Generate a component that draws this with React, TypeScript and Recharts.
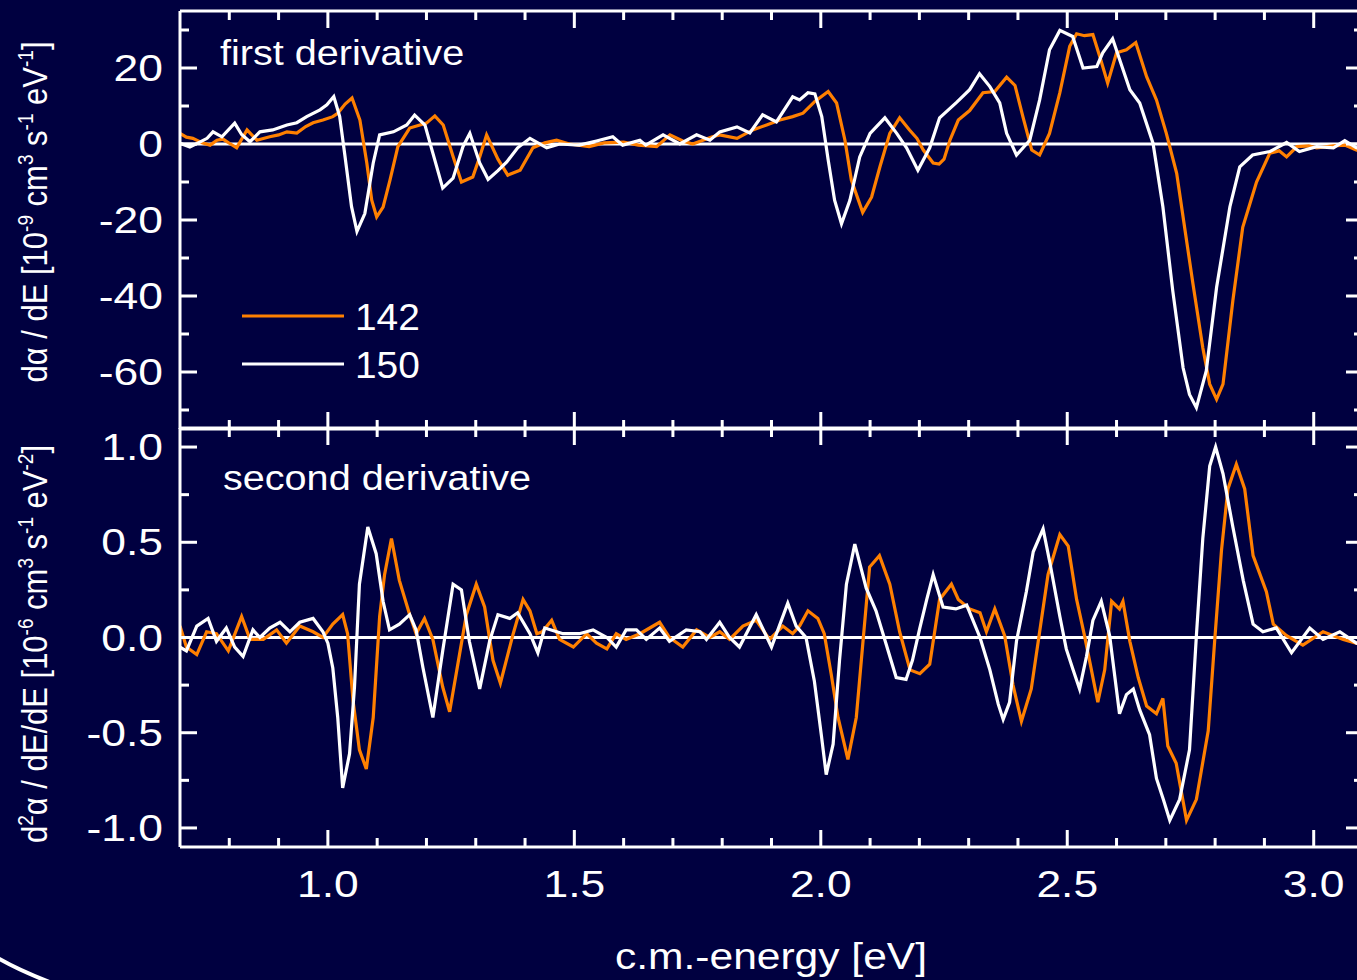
import React from "react";
import { LineChart, Line, XAxis, YAxis, ReferenceLine } from "recharts";

const BG = "#000040";
const ORANGE = "#ff8000";
const WHITE = "#ffffff";
const FONT = '"Liberation Sans", Arial, sans-serif';

// [energy eV, value]
const first142: [number, number][] = [
  [0.7, 2.8], [0.713, 1.8], [0.726, 1.5], [0.745, 0.3], [0.761, -0.3], [0.775, 1.0], [0.787, 1.3], [0.8, 0.2],
  [0.815, -1.0], [0.836, 3.7], [0.856, 1.0], [0.882, 1.9], [0.9, 2.4], [0.917, 3.2], [0.937, 2.9], [0.955, 4.6],
  [0.97, 5.6], [0.99, 6.3], [1.01, 7.2], [1.02, 8.1], [1.035, 10.5], [1.049, 12.1], [1.065, 6.3], [1.079, -5.0],
  [1.089, -14.8], [1.099, -19.2], [1.112, -16.6], [1.126, -9.5], [1.142, -0.7], [1.166, 4.2], [1.2, 5.5],
  [1.217, 7.4], [1.234, 5.0], [1.254, -3.3], [1.271, -10.0], [1.294, -8.7], [1.308, -3.4], [1.322, 2.4],
  [1.345, -4.0], [1.365, -8.2], [1.39, -6.9], [1.416, -1.0], [1.44, 0.3], [1.464, 1.0], [1.49, 0.0], [1.53, -0.7],
  [1.56, 0.3], [1.6, 0.5], [1.63, -0.3], [1.667, -0.7], [1.694, 2.4], [1.72, 0.8], [1.74, 0.0], [1.78, 1.9],
  [1.795, 2.4], [1.83, 1.5], [1.862, 3.7], [1.89, 5.0], [1.917, 6.3], [1.943, 7.2], [1.964, 8.1], [1.988, 11.2],
  [2.015, 13.8], [2.032, 10.8], [2.049, 1.0], [2.062, -9.5], [2.085, -18.0], [2.103, -14.0], [2.12, -6.0],
  [2.14, 2.8], [2.16, 6.9], [2.18, 3.7], [2.195, 1.5], [2.208, -1.6], [2.228, -5.0], [2.24, -5.3], [2.25, -4.0],
  [2.262, 1.0], [2.279, 6.3], [2.302, 8.8], [2.329, 13.5], [2.353, 13.8], [2.377, 17.6], [2.394, 15.4],
  [2.41, 7.2], [2.428, -1.6], [2.444, -2.9], [2.464, 2.8], [2.485, 13.5], [2.505, 25.7], [2.519, 29.0],
  [2.535, 28.5], [2.552, 28.8], [2.566, 23.0], [2.582, 16.0], [2.6, 24.0], [2.62, 24.8], [2.639, 26.7],
  [2.661, 17.7], [2.681, 11.6], [2.701, 2.8], [2.722, -7.7], [2.735, -19.2], [2.755, -36.8], [2.775, -53.6],
  [2.789, -63.2], [2.803, -67.2], [2.816, -63.2], [2.836, -41.2], [2.856, -21.9], [2.884, -10.0], [2.911, -2.4],
  [2.93, -1.8], [2.945, -3.4], [2.966, -0.7], [2.99, -0.5], [3.006, -1.0], [3.04, -0.5], [3.063, -0.3],
  [3.087, -1.6], [3.1, -1.5],
];

const first150: [number, number][] = [
  [0.7, 0.2], [0.72, -0.8], [0.74, 0.5], [0.755, 1.5], [0.767, 3.2], [0.785, 1.9], [0.811, 5.5], [0.825, 2.5],
  [0.842, 0.6], [0.862, 3.2], [0.888, 3.7], [0.917, 5.0], [0.937, 5.6], [0.957, 7.2], [0.984, 9.0], [0.998, 10.3],
  [1.012, 12.5], [1.024, 7.2], [1.034, -2.5], [1.048, -16.5], [1.059, -23.0], [1.075, -18.3], [1.092, -5.0],
  [1.105, 2.4], [1.133, 3.2], [1.16, 5.0], [1.176, 7.6], [1.197, 5.0], [1.213, -2.4], [1.233, -11.6],
  [1.254, -9.0], [1.274, -0.7], [1.288, 2.8], [1.308, -5.0], [1.325, -9.3], [1.345, -7.0], [1.363, -4.7],
  [1.385, -1.0], [1.41, 1.5], [1.444, -1.0], [1.47, 0.0], [1.51, -0.3], [1.545, 0.8], [1.578, 1.9], [1.598, -0.3],
  [1.633, 1.0], [1.645, -0.3], [1.68, 2.4], [1.714, 0.0], [1.748, 2.4], [1.775, 1.0], [1.795, 3.2], [1.83, 4.5],
  [1.856, 2.9], [1.882, 7.7], [1.91, 5.8], [1.943, 12.4], [1.957, 11.6], [1.974, 13.5], [1.988, 13.2],
  [2.002, 7.2], [2.015, -4.2], [2.028, -14.8], [2.042, -21.0], [2.059, -14.8], [2.079, -3.4], [2.1, 2.8],
  [2.13, 6.9], [2.154, 2.8], [2.174, -1.0], [2.197, -6.9], [2.221, -1.0], [2.241, 6.9], [2.276, 11.0],
  [2.302, 14.3], [2.322, 18.5], [2.343, 15.1], [2.363, 10.8], [2.377, 2.8], [2.397, -2.9], [2.424, 1.0],
  [2.444, 11.6], [2.464, 24.8], [2.485, 29.9], [2.511, 28.3], [2.532, 20.0], [2.56, 20.4], [2.572, 24.0],
  [2.592, 27.7], [2.627, 14.3], [2.647, 10.8], [2.674, 0.2], [2.694, -16.5], [2.714, -38.6], [2.735, -58.9],
  [2.748, -65.9], [2.762, -69.4], [2.782, -59.7], [2.803, -37.7], [2.83, -16.5], [2.85, -6.0], [2.876, -2.9],
  [2.911, -2.0], [2.945, 0.4], [2.971, -2.0], [3.006, -0.7], [3.04, -1.0], [3.063, 0.9], [3.087, -1.0], [3.1, -0.8],
];

const second142: [number, number][] = [
  [0.7, 0.06], [0.713, -0.05], [0.734, -0.09], [0.754, 0.03], [0.774, 0.02], [0.798, -0.07], [0.825, 0.11],
  [0.842, -0.01], [0.869, -0.01], [0.896, 0.04], [0.916, -0.03], [0.943, 0.06], [0.97, 0.03], [0.99, 0.0],
  [1.01, 0.07], [1.03, 0.12], [1.04, 0.02], [1.051, -0.33], [1.064, -0.59], [1.078, -0.69], [1.092, -0.42],
  [1.105, 0.11], [1.115, 0.33], [1.129, 0.52], [1.145, 0.3], [1.166, 0.12], [1.179, 0.02], [1.196, 0.1],
  [1.213, -0.01], [1.233, -0.26], [1.247, -0.39], [1.267, -0.09], [1.281, 0.12], [1.301, 0.28], [1.318, 0.16],
  [1.335, -0.12], [1.35, -0.24], [1.376, 0.02], [1.396, 0.2], [1.41, 0.14], [1.424, 0.02], [1.435, 0.03],
  [1.454, 0.09], [1.47, -0.01], [1.498, -0.05], [1.525, 0.02], [1.545, -0.03], [1.566, -0.06], [1.585, 0.02],
  [1.605, -0.01], [1.633, 0.02], [1.673, 0.08], [1.693, 0.0], [1.72, -0.05], [1.748, 0.04], [1.775, 0.0],
  [1.795, 0.03], [1.815, -0.01], [1.842, 0.06], [1.869, 0.09], [1.896, -0.01], [1.923, 0.06], [1.943, 0.02],
  [1.957, 0.06], [1.974, 0.14], [1.994, 0.1], [2.007, 0.02], [2.021, -0.19], [2.035, -0.42], [2.055, -0.64],
  [2.072, -0.42], [2.086, -0.01], [2.099, 0.37], [2.119, 0.43], [2.14, 0.28], [2.16, 0.03], [2.181, -0.17],
  [2.201, -0.19], [2.221, -0.14], [2.241, 0.2], [2.265, 0.28], [2.279, 0.2], [2.302, 0.15], [2.323, 0.13],
  [2.336, 0.03], [2.353, 0.15], [2.373, 0.01], [2.39, -0.25], [2.407, -0.44], [2.427, -0.27], [2.444, 0.03],
  [2.461, 0.33], [2.485, 0.54], [2.502, 0.48], [2.519, 0.2], [2.535, 0.01], [2.549, -0.17], [2.562, -0.34],
  [2.576, -0.17], [2.59, 0.19], [2.606, 0.15], [2.613, 0.19], [2.627, -0.02], [2.644, -0.21], [2.661, -0.36],
  [2.681, -0.4], [2.694, -0.32], [2.704, -0.57], [2.721, -0.66], [2.742, -0.96], [2.762, -0.85], [2.772, -0.7],
  [2.786, -0.49], [2.799, -0.02], [2.813, 0.46], [2.826, 0.78], [2.843, 0.91], [2.86, 0.78], [2.877, 0.43],
  [2.904, 0.24], [2.918, 0.07], [2.945, 0.01], [2.978, -0.04], [3.019, 0.03], [3.06, -0.01], [3.087, -0.03],
  [3.1, -0.02],
];

const second150: [number, number][] = [
  [0.7, -0.05], [0.713, -0.07], [0.734, 0.06], [0.757, 0.1], [0.774, -0.02], [0.794, 0.05], [0.811, -0.05],
  [0.828, -0.1], [0.848, 0.04], [0.862, 0.0], [0.882, 0.05], [0.903, 0.08], [0.923, 0.03], [0.943, 0.08],
  [0.97, 0.1], [0.99, 0.03], [1.0, -0.03], [1.01, -0.16], [1.02, -0.42], [1.03, -0.79], [1.044, -0.61],
  [1.054, -0.26], [1.064, 0.28], [1.081, 0.58], [1.098, 0.44], [1.112, 0.19], [1.125, 0.04], [1.145, 0.07],
  [1.166, 0.12], [1.179, 0.04], [1.193, -0.16], [1.213, -0.42], [1.233, -0.07], [1.254, 0.28], [1.271, 0.25],
  [1.287, -0.02], [1.308, -0.27], [1.328, -0.02], [1.345, 0.12], [1.369, 0.1], [1.385, 0.13], [1.41, 0.02],
  [1.426, -0.08], [1.44, 0.05], [1.477, 0.02], [1.51, 0.02], [1.538, 0.04], [1.566, 0.0], [1.585, -0.05],
  [1.605, 0.04], [1.626, 0.04], [1.646, -0.01], [1.673, 0.05], [1.693, -0.02], [1.727, 0.04], [1.755, 0.03],
  [1.768, -0.01], [1.795, 0.08], [1.815, 0.0], [1.835, -0.05], [1.869, 0.12], [1.9, -0.05], [1.933, 0.18],
  [1.95, 0.06], [1.97, 0.0], [1.987, -0.23], [2.001, -0.51], [2.011, -0.72], [2.025, -0.56], [2.038, -0.12],
  [2.052, 0.28], [2.069, 0.49], [2.092, 0.26], [2.112, 0.14], [2.132, -0.03], [2.153, -0.21], [2.173, -0.22],
  [2.186, -0.12], [2.201, 0.05], [2.215, 0.2], [2.228, 0.33], [2.248, 0.16], [2.274, 0.15], [2.296, 0.17],
  [2.323, 0.0], [2.343, -0.17], [2.36, -0.35], [2.37, -0.43], [2.383, -0.34], [2.397, -0.02], [2.417, 0.24],
  [2.431, 0.45], [2.451, 0.57], [2.465, 0.39], [2.485, 0.11], [2.498, -0.06], [2.512, -0.17], [2.525, -0.27],
  [2.539, -0.1], [2.552, 0.09], [2.569, 0.19], [2.586, 0.01], [2.606, -0.4], [2.62, -0.3], [2.634, -0.27],
  [2.647, -0.38], [2.667, -0.51], [2.681, -0.74], [2.695, -0.85], [2.708, -0.96], [2.728, -0.85], [2.748, -0.59],
  [2.762, 0.01], [2.775, 0.52], [2.789, 0.9], [2.801, 1.0], [2.816, 0.86], [2.836, 0.58], [2.857, 0.3],
  [2.877, 0.07], [2.897, 0.03], [2.924, 0.05], [2.955, -0.08], [2.992, 0.05], [3.019, -0.01], [3.053, 0.03],
  [3.087, -0.03], [3.1, -0.02],
];

const xTicks = [0.8, 0.9, 1.0, 1.1, 1.2, 1.3, 1.4, 1.5, 1.6, 1.7, 1.8, 1.9, 2.0, 2.1, 2.2, 2.3, 2.4, 2.5, 2.6, 2.7, 2.8, 2.9, 3.0];
const xMajor = [1.0, 1.5, 2.0, 2.5, 3.0];
const firstTicks = [-70, -60, -50, -40, -30, -20, -10, 0, 10, 20, 30];
const firstMajor = [-60, -40, -20, 0, 20];
const secondTicks = [-1.0, -0.75, -0.5, -0.25, 0, 0.25, 0.5, 0.75, 1.0];
const secondMajor = [-1.0, -0.5, 0, 0.5, 1.0];

const toRows = (pts: [number, number][]) => pts.map(([e, v]) => ({ e, v }));

type Side = "left" | "right" | "top" | "bottom";

function makeTick(side: Side, majors: number[], fmt?: (v: number) => string) {
  return (props: any) => {
    const { x, y, payload } = props;
    const v = payload.value as number;
    const major = majors.some((m) => Math.abs(m - v) < 1e-6);
    const len = major ? 17 : 9;
    let x2 = x;
    let y2 = y;
    if (side === "left") x2 = x + len;
    if (side === "right") x2 = x - len;
    if (side === "top") y2 = y + len;
    if (side === "bottom") y2 = y - len;
    let label = null;
    if (fmt && major && side === "left") {
      label = (
        <text transform={`translate(${x - 17},${y + 13}) scale(1.2,1)`} textAnchor="end" fill={WHITE} fontSize={37} fontFamily={FONT}>
          {fmt(v)}
        </text>
      );
    }
    if (fmt && major && side === "bottom") {
      label = (
        <text transform={`translate(${x},${y + 50}) scale(1.2,1)`} textAnchor="middle" fill={WHITE} fontSize={37} fontFamily={FONT}>
          {fmt(v)}
        </text>
      );
    }
    return (
      <g>
        <line x1={x} y1={y} x2={x2} y2={y2} stroke={WHITE} strokeWidth={3} />
        {label}
      </g>
    );
  };
}

const axisLine = { stroke: WHITE, strokeWidth: 3 };

function Panel(props: {
  top: number;
  height: number;
  topAxisH: number;
  bottomAxisH: number;
  domain: [number, number];
  yTicks: number[];
  yMajor: number[];
  yFmt: (v: number) => string;
  xLabels: boolean;
  a: [number, number][];
  b: [number, number][];
}) {
  const { top, height, topAxisH, bottomAxisH, domain, yTicks, yMajor, yFmt, xLabels, a, b } = props;
  const common = { tickSize: 0, tickMargin: 0, interval: 0 as const, allowDataOverflow: true };
  return (
    <div style={{ position: "absolute", left: 0, top, width: 1400, height }}>
      <LineChart width={1400} height={height} margin={{ top: 0, right: 27, left: 10, bottom: 0 }}>
        <XAxis xAxisId="t" orientation="top" type="number" dataKey="e" domain={[0.7, 3.1]} ticks={xTicks}
          height={topAxisH} axisLine={axisLine} tickLine={false} tick={makeTick("top", xMajor)} {...common} />
        <XAxis xAxisId="b" orientation="bottom" type="number" dataKey="e" domain={[0.7, 3.1]} ticks={xTicks}
          height={bottomAxisH} axisLine={axisLine} tickLine={false}
          tick={makeTick("bottom", xMajor, xLabels ? (v) => v.toFixed(1) : undefined)} {...common} />
        <YAxis yAxisId="l" orientation="left" type="number" domain={domain} ticks={yTicks} width={170}
          axisLine={axisLine} tickLine={false} tick={makeTick("left", yMajor, yFmt)} {...common} />
        <YAxis yAxisId="r" orientation="right" type="number" domain={domain} ticks={yTicks} width={10}
          axisLine={axisLine} tickLine={false} tick={makeTick("right", yMajor)} {...common} />
        <ReferenceLine xAxisId="b" yAxisId="l" y={0} stroke={WHITE} strokeWidth={3.2} />
        <Line xAxisId="b" yAxisId="l" data={toRows(a)} dataKey="v" type="linear" stroke={ORANGE}
          strokeWidth={3.2} dot={false} isAnimationActive={false} />
        <Line xAxisId="b" yAxisId="l" data={toRows(b)} dataKey="v" type="linear" stroke={WHITE}
          strokeWidth={3.2} dot={false} isAnimationActive={false} />
      </LineChart>
    </div>
  );
}

const sup = (s: string) => (
  <tspan dy={-12} fontSize={19}>{s}</tspan>
);
const base = (s: string) => <tspan dy={12}>{s}</tspan>;

export default function App() {
  return (
    <div style={{ position: "fixed", left: 0, top: 0, width: 1357, height: 980, overflow: "hidden", background: BG }}>
      <Panel top={1} height={439} topAxisH={10} bottomAxisH={11} domain={[-75, 35]} yTicks={firstTicks}
        yMajor={firstMajor} yFmt={(v) => String(v)} xLabels={false} a={first142} b={first150} />
      <Panel top={420} height={560} topAxisH={8} bottomAxisH={133} domain={[-1.1, 1.1]} yTicks={secondTicks}
        yMajor={secondMajor} yFmt={(v) => v.toFixed(1)} xLabels={true} a={second142} b={second150} />
      <svg width={1357} height={980} style={{ position: "absolute", left: 0, top: 0, pointerEvents: "none" }}
        fontFamily={FONT} fill={WHITE}>
        <text transform="translate(220,65) scale(1.1,1)" fontSize={36}>first derivative</text>
        <text transform="translate(223,490) scale(1.1,1)" fontSize={36}>second derivative</text>
        <line x1={242} y1={316} x2={344} y2={316} stroke={ORANGE} strokeWidth={3.2} />
        <line x1={242} y1={364} x2={344} y2={364} stroke={WHITE} strokeWidth={3.2} />
        <text transform="translate(355,330) scale(1.05,1)" fontSize={37}>142</text>
        <text transform="translate(355,378) scale(1.05,1)" fontSize={37}>150</text>
        <text transform="translate(771,969) scale(1.15,1)" fontSize={37} textAnchor="middle">c.m.-energy [eV]</text>
        <text transform="translate(47,212) scale(1.13,1) rotate(-90)" fontSize={31} textAnchor="middle">
          {"d\u03b1 / dE [10"}{sup("-9")}{base(" cm")}{sup("3")}{base(" s")}{sup("-1")}{base(" eV")}{sup("-1")}{base("]")}
        </text>
        <text transform="translate(47,644) scale(1.13,1) rotate(-90)" fontSize={31} textAnchor="middle">
          {"d"}{sup("2")}{base("\u03b1 / dE/dE [10")}{sup("-6")}{base(" cm")}{sup("3")}{base(" s")}{sup("-1")}{base(" eV")}{sup("-2")}{base("]")}
        </text>
        <path d="M -4 957 Q 18 970 52 983" fill="none" stroke={WHITE} strokeWidth={4} />
      </svg>
    </div>
  );
}
